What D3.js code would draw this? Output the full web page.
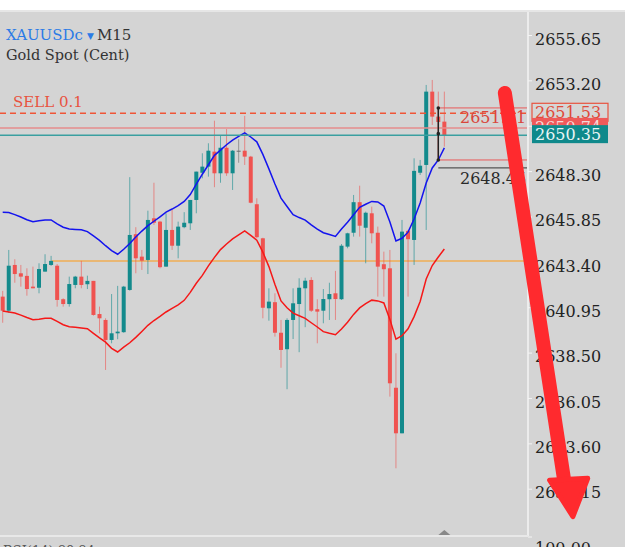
<!DOCTYPE html>
<html>
<head>
<meta charset="utf-8">
<script src="https://cdn.jsdelivr.net/npm/d3@7"></script>
<style>
  body { margin: 0; background: #fff; }
  svg { display: block; font-family: "DejaVu Serif", serif; }
</style>
</head>
<body>
<svg id="chart"></svg>
<script>
// M15 candles, XAUUSDc (index 0 = oldest visible bar)
const opens = [
  2641.63, 2640.87, 2643.34, 2642.89, 2642.75, 2642.17, 2642.11, 2642.98, 2643.34, 2643.30,
  2641.49, 2641.23, 2642.26, 2642.71, 2642.30, 2642.48, 2640.69, 2640.37, 2639.29, 2639.65,
  2639.71, 2641.99, 2645.00, 2643.79, 2643.61, 2645.86, 2645.68, 2643.25, 2645.23, 2644.38,
  2645.38, 2645.59, 2646.85, 2648.32, 2648.65, 2649.46, 2648.29, 2649.67, 2648.29, 2649.51,
  2649.51, 2649.19, 2646.62, 2644.78, 2641.00, 2641.33, 2639.68, 2638.79, 2640.37, 2641.23,
  2642.08, 2642.53, 2640.95, 2640.87, 2641.49, 2641.81, 2641.49, 2644.33, 2645.08, 2646.73,
  2645.35, 2646.13, 2645.08, 2643.38, 2643.16, 2636.71, 2634.25, 2645.18, 2644.69, 2648.32,
  2648.74, 2652.70, 2651.35, 2651.08
];
const highs = [
  2641.94, 2644.15, 2643.65, 2643.34, 2643.16, 2643.25, 2643.43, 2643.92, 2643.83, 2643.39,
  2641.54, 2642.71, 2642.75, 2643.56, 2642.76, 2642.48, 2641.09, 2640.46, 2641.77, 2642.21,
  2642.21, 2648.08, 2645.38, 2644.15, 2646.27, 2647.78, 2645.72, 2646.13, 2646.31, 2645.68,
  2646.19, 2646.85, 2648.38, 2649.37, 2649.91, 2651.13, 2650.31, 2650.68, 2649.55, 2650.13,
  2651.39, 2649.23, 2646.94, 2644.81, 2642.08, 2641.81, 2640.37, 2640.46, 2642.08, 2642.62,
  2642.65, 2642.68, 2641.49, 2642.04, 2642.38, 2643.02, 2644.47, 2645.08, 2647.12, 2647.62,
  2646.22, 2646.49, 2645.41, 2644.06, 2644.15, 2638.57, 2645.77, 2645.23, 2649.10, 2649.01,
  2653.06, 2653.33, 2652.70, 2652.70
];
const lows = [
  2640.22, 2640.75, 2642.38, 2642.17, 2641.68, 2642.08, 2641.81, 2642.98, 2643.29, 2641.09,
  2641.09, 2641.09, 2642.08, 2642.08, 2642.04, 2640.60, 2639.65, 2637.67, 2639.11, 2639.33,
  2639.68, 2641.95, 2642.89, 2643.07, 2642.85, 2645.50, 2643.16, 2643.25, 2644.15, 2643.70,
  2645.32, 2645.23, 2646.13, 2648.02, 2648.11, 2647.54, 2647.78, 2648.15, 2647.39, 2648.86,
  2648.74, 2646.67, 2644.78, 2640.46, 2640.33, 2639.47, 2637.79, 2636.63, 2639.34, 2638.63,
  2639.98, 2640.80, 2639.11, 2640.19, 2640.37, 2640.37, 2641.45, 2644.24, 2644.87, 2644.87,
  2643.43, 2644.51, 2641.63, 2641.63, 2636.23, 2632.36, 2634.25, 2641.63, 2643.34, 2648.20,
  2645.23, 2650.90, 2649.01, 2649.73
];
const closes = [
  2640.87, 2643.30, 2642.85, 2642.71, 2642.04, 2642.08, 2643.12, 2643.39, 2643.56, 2641.45,
  2641.23, 2642.31, 2642.71, 2642.26, 2642.48, 2640.64, 2640.46, 2639.29, 2639.65, 2639.74,
  2642.17, 2644.96, 2643.70, 2643.57, 2645.77, 2645.62, 2643.22, 2645.23, 2644.38, 2645.41,
  2645.62, 2646.85, 2648.38, 2648.65, 2649.51, 2648.29, 2649.67, 2648.29, 2649.51, 2649.51,
  2649.19, 2646.70, 2644.84, 2641.03, 2641.36, 2639.68, 2638.75, 2640.37, 2641.27, 2642.11,
  2642.49, 2640.87, 2640.82, 2641.50, 2641.77, 2641.50, 2644.38, 2645.05, 2646.73, 2645.46,
  2646.16, 2645.05, 2643.25, 2643.11, 2636.95, 2634.25, 2645.14, 2644.73, 2648.42, 2648.70,
  2652.70, 2651.35, 2651.06, 2650.35
];
// envelope / band lines
const upperBand = [
  2646.18, 2646.17, 2646.06, 2645.93, 2645.78, 2645.68, 2645.73, 2645.77, 2645.77, 2645.56,
  2645.38, 2645.28, 2645.26, 2645.24, 2645.14, 2644.91, 2644.67, 2644.38, 2644.11, 2643.92,
  2644.19, 2644.50, 2644.85, 2645.17, 2645.46, 2645.70, 2645.94, 2646.19, 2646.36, 2646.54,
  2646.77, 2647.14, 2647.70, 2648.24, 2648.75, 2649.26, 2649.54, 2649.83, 2650.08, 2650.28,
  2650.47, 2650.25, 2649.99, 2649.31, 2648.53, 2647.71, 2646.95, 2646.50, 2646.06, 2645.90,
  2645.76, 2645.50, 2645.28, 2645.08, 2644.98, 2644.88, 2645.28, 2645.65, 2646.05, 2646.45,
  2646.62, 2646.77, 2646.74, 2646.52, 2645.66, 2644.64, 2644.78, 2645.11, 2645.82, 2646.69,
  2647.77, 2648.58, 2649.01, 2649.66
];
const lowerBand = [
  2640.85, 2640.80, 2640.75, 2640.63, 2640.50, 2640.38, 2640.41, 2640.46, 2640.46, 2640.29,
  2640.11, 2640.00, 2639.97, 2639.94, 2639.90, 2639.65, 2639.40, 2639.17, 2638.84, 2638.64,
  2638.90, 2639.14, 2639.43, 2639.75, 2640.08, 2640.34, 2640.56, 2640.80, 2641.00, 2641.19,
  2641.43, 2641.86, 2642.35, 2642.78, 2643.29, 2643.75, 2644.17, 2644.47, 2644.75, 2644.97,
  2645.18, 2644.94, 2644.68, 2644.03, 2643.25, 2642.28, 2641.40, 2641.03, 2640.74, 2640.60,
  2640.46, 2640.22, 2639.99, 2639.74, 2639.65, 2639.57, 2639.88, 2640.25, 2640.67, 2641.02,
  2641.25, 2641.44, 2641.40, 2641.29, 2640.40, 2639.33, 2639.52, 2639.89, 2640.55, 2641.37,
  2642.58, 2643.31, 2643.77, 2644.20
];
const priceTicks = [2655.65, 2653.20, 2650.75, 2648.30, 2645.85, 2643.40, 2640.95, 2638.50, 2636.05, 2633.60, 2631.15];

// order / price lines
const sellPrice = 2651.53;
const askPrice = 2650.74;
const bidPrice = 2650.35;
const levelPrice = 2643.56;
const levelStart = 8;
// drawing tools
const boxStart = 72, boxTop = 2651.82, boxBottom = 2649.01, boxMid = 2650.43;
const measurePrice = 2648.58;
// hand-drawn arrow, in (bar index, price)
const arrowShaft = [[83.0, 2652.63], [92.9, 2631.51]];
const arrowHead = [[90.4, 2631.72], [96.7, 2631.82], [94.25, 2629.75]];

const W = 625, H = 547, axisX = 528;
const svg = d3.select("#chart").attr("width", W).attr("height", H);

const x = d3.scaleLinear().domain([0, 73]).range([2.7, 444.35]);
const y = d3.scaleLinear().domain([2631.15, 2655.65]).range([490.7, 37]);

// background
svg.append("rect").attr("width", W).attr("height", H).attr("fill", "#d4d4d4");
svg.append("rect").attr("width", W).attr("height", 10).attr("fill", "#fff");
svg.append("rect").attr("y", 10).attr("width", W).attr("height", 2).attr("fill", "#e6e6e6");

svg.append("defs").append("clipPath").attr("id", "plot")
  .append("rect").attr("x", 0).attr("y", 12).attr("width", axisX).attr("height", 522);

const plot = svg.append("g").attr("clip-path", "url(#plot)");

// orange level line
plot.append("line")
  .attr("x1", x(levelStart) + 0.5).attr("x2", axisX)
  .attr("y1", y(levelPrice)).attr("y2", y(levelPrice))
  .attr("stroke", "#f0ae55").attr("stroke-width", 1.5);

// candles
const upCol = "#138a8c", downCol = "#ef5350", flatCol = "#6b6b6b";
const bars = d3.range(opens.length).map((i) => ({
  i, o: opens[i], h: highs[i], l: lows[i], c: closes[i]
}));
const colorOf = (d) => d.c > d.o ? upCol : d.c < d.o ? downCol : flatCol;

const candle = plot.append("g").selectAll("g").data(bars).join("g");
candle.append("line")
  .attr("x1", (d) => x(d.i)).attr("x2", (d) => x(d.i))
  .attr("y1", (d) => y(d.h)).attr("y2", (d) => y(d.l))
  .attr("stroke", colorOf).attr("stroke-opacity", 0.6).attr("stroke-width", 1);
candle.append("rect")
  .attr("x", (d) => x(d.i) - 2).attr("width", 4)
  .attr("y", (d) => y(Math.max(d.o, d.c)))
  .attr("height", (d) => Math.max(1, Math.abs(y(d.o) - y(d.c))))
  .attr("fill", colorOf);

// bands
const bandLine = d3.line().x((d, i) => x(i)).y((d) => y(d));
plot.append("path").datum(upperBand).attr("d", bandLine)
  .attr("fill", "none").attr("stroke", "#1414ee").attr("stroke-width", 1.5);
plot.append("path").datum(lowerBand).attr("d", bandLine)
  .attr("fill", "none").attr("stroke", "#f51818").attr("stroke-width", 1.5);

// price lines
plot.append("line").attr("x1", 0).attr("x2", axisX + 4)
  .attr("y1", y(askPrice)).attr("y2", y(askPrice))
  .attr("stroke", "#e68c8c").attr("stroke-width", 1.5);
plot.append("line").attr("x1", 0).attr("x2", axisX + 4)
  .attr("y1", y(bidPrice)).attr("y2", y(bidPrice))
  .attr("stroke", "#3a9fa0").attr("stroke-width", 1.5);
plot.append("line").attr("x1", 0).attr("x2", axisX + 4)
  .attr("y1", y(sellPrice)).attr("y2", y(sellPrice))
  .attr("stroke", "#ef5536").attr("stroke-width", 1.5)
  .attr("stroke-dasharray", "6,4");

// rectangle + measure tool
plot.append("rect")
  .attr("x", x(boxStart)).attr("y", y(boxTop))
  .attr("width", axisX - x(boxStart)).attr("height", y(boxBottom) - y(boxTop))
  .attr("fill", "none").attr("stroke", "#e85a5a").attr("stroke-width", 1);
plot.append("text").attr("x", 460).attr("y", y(boxTop) + 15)
  .attr("fill", "#d9463c").attr("font-size", 16).text("2651.71");
plot.append("line")
  .attr("x1", x(boxStart)).attr("x2", axisX)
  .attr("y1", y(measurePrice)).attr("y2", y(measurePrice))
  .attr("stroke", "#555").attr("stroke-width", 1.2);
plot.append("line")
  .attr("x1", x(boxStart)).attr("x2", x(boxStart))
  .attr("y1", y(boxTop)).attr("y2", y(boxBottom))
  .attr("stroke", "#222").attr("stroke-width", 1.5);
plot.selectAll("circle.dot").data([boxTop, boxMid, boxBottom]).join("circle")
  .attr("class", "dot").attr("cx", x(boxStart)).attr("cy", (d) => y(d))
  .attr("r", 1.8).attr("fill", "#222");
plot.append("text").attr("x", 460).attr("y", y(measurePrice) + 16)
  .attr("fill", "#2a2a2a").attr("font-size", 16).text("2648.45");

// texts on the chart
svg.append("text").attr("x", 6).attr("y", 40).attr("font-size", 15)
  .call((t) => {
    t.append("tspan").attr("fill", "#2b7be6").text("XAUUSDc");
    t.append("tspan").attr("fill", "#2b7be6").attr("font-size", 9).attr("dx", 4).attr("dy", -1).text("▼");
    t.append("tspan").attr("fill", "#333").attr("dx", 3).attr("dy", 1).text("M15");
  });
svg.append("text").attr("x", 6).attr("y", 60).attr("font-size", 14.5)
  .attr("fill", "#333").text("Gold Spot (Cent)");
svg.append("text").attr("x", 13).attr("y", y(sellPrice) - 6).attr("font-size", 15)
  .attr("fill", "#e8533f").text("SELL 0.1");

// right price axis
svg.append("rect").attr("x", axisX - 1).attr("y", 12).attr("width", 2).attr("height", 524)
  .attr("fill", "#ececec");
const axis = svg.append("g").attr("transform", `translate(${axisX},0)`)
  .call(d3.axisRight(y).tickValues(priceTicks).tickFormat(d3.format(".2f")).tickSize(4).tickPadding(3));
axis.select(".domain").remove();
axis.selectAll(".tick line").attr("stroke", "#f4f4f4").attr("transform", "translate(0,-2)");
axis.selectAll(".tick text").attr("fill", "#222").attr("font-size", 16)
  .attr("font-family", "DejaVu Serif, serif").attr("dy", "0.45em");

// price labels
function priceLabel(price, fill, stroke, color) {
  const g = svg.append("g");
  g.append("rect").attr("x", 532).attr("y", y(price) - 10).attr("width", 76).attr("height", 18)
    .attr("fill", fill).attr("stroke", stroke).attr("stroke-width", 1.2);
  g.append("text").attr("x", 535).attr("y", y(price) + 5).attr("font-size", 16)
    .attr("fill", color).text(d3.format(".2f")(price));
}
priceLabel(sellPrice, "#d6d6d6", "#e8533f", "#df4a3a");
priceLabel(askPrice, "#ef5a5a", "none", "#f7d7d7");
priceLabel(bidPrice, "#0f898b", "none", "#e8f4f4");

// bottom pane
svg.append("rect").attr("x", 0).attr("y", 535).attr("width", axisX).attr("height", 2).attr("fill", "#e8e8e8");
svg.append("path")
  .attr("d", d3.line()([[x(73) - 6, 535], [x(73) + 6, 535], [x(73), 530]]))
  .attr("fill", "#888");
svg.append("line").attr("x1", axisX).attr("x2", axisX + 4).attr("y1", 537).attr("y2", 537)
  .attr("stroke", "#f4f4f4");
svg.append("text").attr("x", 535).attr("y", 554).attr("font-size", 16).attr("fill", "#222").text("100.00");
svg.append("text").attr("x", 3).attr("y", 555).attr("font-size", 13).attr("fill", "#555").text("RSI(14) 80.84");

// red arrow
const arrowCol = "#ff2a2e";
svg.append("path")
  .attr("d", d3.line().x((d) => x(d[0])).y((d) => y(d[1]))(arrowShaft))
  .attr("stroke", arrowCol).attr("stroke-width", 14).attr("stroke-linecap", "round").attr("fill", "none");
svg.append("path")
  .attr("d", d3.line().x((d) => x(d[0])).y((d) => y(d[1]))(arrowHead) + "Z")
  .attr("fill", arrowCol).attr("stroke", arrowCol).attr("stroke-width", 5).attr("stroke-linejoin", "round");
</script>
</body>
</html>
